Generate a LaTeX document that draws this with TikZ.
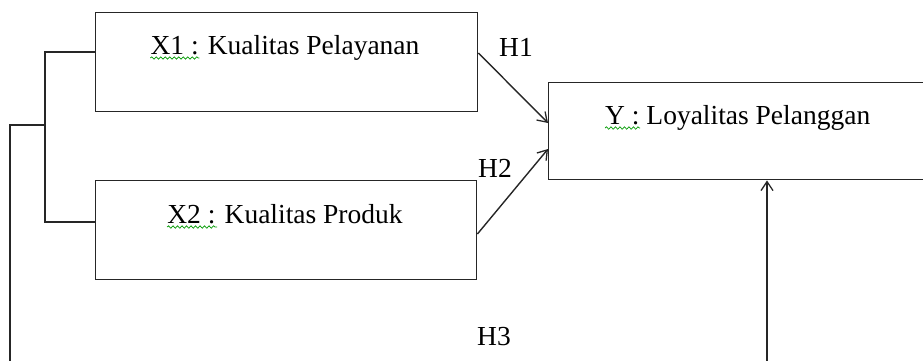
\documentclass[tikz,border=0pt]{standalone}
\usepackage{fontspec}
\setmainfont{Liberation Serif}
\usetikzlibrary{arrows.meta,decorations.pathmorphing}

\begin{document}
\begin{tikzpicture}[x=1pt,y=-1pt,
  box/.style={draw=black!85, line width=1.4pt, rectangle, inner sep=0pt, anchor=north west},
  lbl/.style={inner sep=0pt, font=\fontsize{27.5}{33}\selectfont},
  link/.style={draw=black!85, line width=1.4pt},
  arr/.style={link, -{Straight Barb[length=9pt,width=12pt,line width=1.3pt]}},
  squig/.style={draw=green!60!black, line width=0.7pt,
    decorate, decoration={snake, segment length=4.5pt, amplitude=1.2pt}}]
  \useasboundingbox (0,0) rectangle (923,360);
  \clip (0,0) rectangle (923,360);

  % boxes
  \node[box, minimum width=382pt, minimum height=99pt] (x1) at (95,12) {};
  \node[box, minimum width=381pt, minimum height=99pt] (x2) at (95,180) {};
  \node[box, minimum width=420pt, minimum height=97pt] (y) at (548,82) {};

  % box texts
  \node[lbl, anchor=base] (t1) at (285,54) {X1 : Kualitas Pelayanan};
  \node[lbl, anchor=base] (t2) at (285,223) {X2 : Kualitas Produk};
  \node[lbl, anchor=base west] (ty) at (605,124) {Y : Loyalitas Pelanggan};

  % spell-check squiggles
  \draw[squig] ([yshift=-4pt]t1.base west) -- ++(49,0);
  \draw[squig] ([yshift=-4pt]t2.base west) -- ++(50,0);
  \draw[squig] ([yshift=-4pt]ty.base west) -- ++(35,0);

  % hypothesis labels
  \node[lbl, anchor=base west] (h1) at (499,56.5) {H1};
  \node[lbl, anchor=base west] (h2) at (478,177) {H2};
  \node[lbl, anchor=base west] (h3) at (477,345) {H3};

  % bracket joining X1 and X2
  \coordinate (spine) at (45,125);
  \draw[link] (x1.west |- 0,52) -| (spine) |- (x2.west |- 0,222);

  % combined path to Y
  \coordinate (bl) at (10,372);
  \coordinate (foot) at (767,372);
  \draw[link] (spine) -| (bl) -- (foot);
  \draw[arr] (foot) -- (foot |- y.south);

  % H1 and H2 arrows
  \draw[arr] (x1.east |- 0,53) -- (y.west |- 0,123);
  \draw[arr] (x2.east |- 0,234) -- (y.west |- 0,149);
\end{tikzpicture}
\end{document}
